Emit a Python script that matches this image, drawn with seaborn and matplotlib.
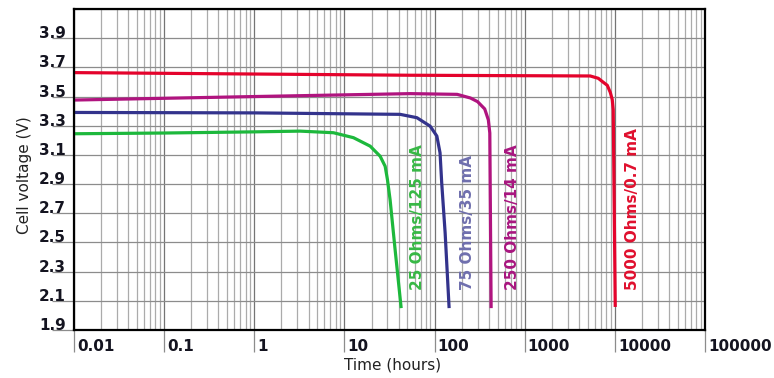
"""
Cell voltage vs. discharge time for four resistive loads (log time axis).
"""

import matplotlib
matplotlib.use("Agg")
import matplotlib.pyplot as plt
import matplotlib.transforms as mtransforms
from matplotlib.ticker import LogLocator, FixedLocator, NullFormatter
import pandas as pd
import seaborn as sns

sns.set_theme(style="white")
plt.rcParams['font.family'] = ['DejaVu Sans']

# --- data --------------------------------------------------------------------
green_t = [0.01, 0.1, 1, 3.22, 7.55, 12.6, 19.3, 24.9, 28.3, 30.0, 32.1, 36.5, 42.6]
green_v = [3.245, 3.25, 3.258, 3.263, 3.252, 3.218, 3.16, 3.091, 3.022, 2.931, 2.793, 2.45, 2.05]

blue_t = [0.01, 1, 41.5, 63.7, 89.3, 106, 115, 120, 131, 145]
blue_v = [3.391, 3.388, 3.378, 3.355, 3.297, 3.229, 3.114, 2.908, 2.565, 2.05]

magenta_t = [0.01, 1, 54, 178, 250, 300, 360, 395, 410, 424]
magenta_v = [3.476, 3.50, 3.52, 3.515, 3.49, 3.465, 3.415, 3.34, 3.25, 2.05]

red_t = [0.01, 54, 5330, 6550, 7430, 8240, 8890, 9350, 9590, 10100]
red_v = [3.664, 3.646, 3.641, 3.625, 3.598, 3.577, 3.529, 3.48, 3.41, 2.058]

series_names = ["25 Ohms/125 mA", "75 Ohms/35 mA", "250 Ohms/14 mA", "5000 Ohms/0.7 mA"]
line_colors = ["#1db83c", "#33338c", "#b0147f", "#e4032c"]
text_colors = ["#37b845", "#6f6fae", "#a8157f", "#e0102e"]
label_t = [64, 230, 726, 15600]
label_v = 2.175

y_ticks = [1.9, 2.1, 2.3, 2.5, 2.7, 2.9, 3.1, 3.3, 3.5, 3.7, 3.9]
x_ticks = [0.01, 0.1, 1, 10, 100, 1000, 10000, 100000]
x_tick_labels = ["0.01", "0.1", "1", "10", "100", "1000", "10000", "100000"]

curves = [(green_t, green_v), (blue_t, blue_v), (magenta_t, magenta_v), (red_t, red_v)]
frames = []
for name, (t, v) in zip(series_names, curves):
    frames.append(pd.DataFrame({"time": t, "voltage": v, "load": name}))
df = pd.concat(frames, ignore_index=True)

# --- figure ------------------------------------------------------------------
fig = plt.figure(figsize=(7.74, 3.78), dpi=100)
ax = fig.add_axes([74 / 774, 48 / 378, 631 / 774, 321 / 378])

sns.lineplot(ax=ax, data=df, x="time", y="voltage", hue="load",
             palette=dict(zip(series_names, line_colors)), hue_order=series_names,
             estimator=None, sort=False, linewidth=2.3, legend=False)
for ln in ax.lines:
    ln.set_solid_joinstyle("round")
    ln.set_solid_capstyle("butt")

ax.set_xscale("log")
ax.set_xlim(0.01, 100000)
ax.set_ylim(1.9, 4.1)

# grid
ax.xaxis.set_minor_locator(LogLocator(base=10, subs=range(2, 10), numticks=20))
ax.xaxis.set_minor_formatter(NullFormatter())
ax.set_axisbelow(True)
ax.grid(which="major", axis="x", color="#747474", linewidth=0.9)
ax.grid(which="minor", axis="x", color="#ababab", linewidth=0.9)
ax.yaxis.set_minor_locator(FixedLocator([4.1]))
ax.grid(which="both", axis="y", color="#8c8c8c", linewidth=0.9)

# ticks: long gray tick lines, labels sitting on/right of them
ax.set_yticks(y_ticks, [f"{y:.1f}" for y in y_ticks], va="baseline")
ax.set_xticks(x_ticks, x_tick_labels, ha="left")
ax.tick_params(axis="both", which="major", direction="out", length=15.8, width=0.9,
               color="#8c8c8c", labelsize=11, labelcolor="#141420")
ax.tick_params(axis="y", which="major", pad=-10.1, left=True)
ax.tick_params(axis="x", which="major", pad=-9.4, bottom=True)
ax.tick_params(which="minor", length=0)
for lbl in ax.get_yticklabels() + ax.get_xticklabels():
    lbl.set_fontweight("bold")
shift = mtransforms.ScaledTranslation(3 / 100, 0, fig.dpi_scale_trans)
for lbl in ax.get_xticklabels():
    lbl.set_transform(lbl.get_transform() + shift)

for side in ["left", "right", "top", "bottom"]:
    ax.spines[side].set_visible(True)
    ax.spines[side].set_color("black")
    ax.spines[side].set_linewidth(1.6)

ax.set_ylabel("Cell voltage (V)", fontsize=11, color="#222222")
ax.yaxis.set_label_coords(-0.066, 0.481)
ax.set_xlabel("Time (hours)", fontsize=11, color="#222222")
ax.xaxis.set_label_coords(0.505, -0.087)

# rotated curve labels
for name, t, c in zip(series_names, label_t, text_colors):
    ax.text(t, label_v, name, rotation=90, ha="center", va="bottom",
            color=c, fontsize=11, fontweight="bold")

fig.savefig("out.png", dpi=100)
plt.close(fig)
